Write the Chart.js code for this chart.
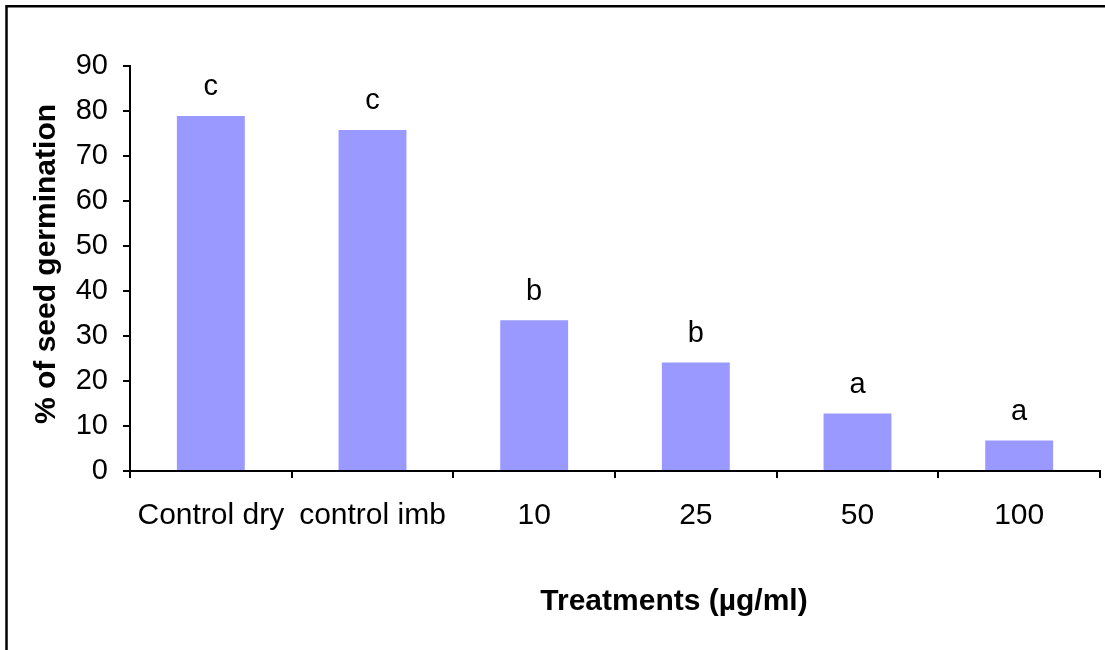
<!DOCTYPE html>
<html>
<head>
<meta charset="utf-8">
<script src="https://cdn.jsdelivr.net/npm/chart.js@4.4.1/dist/chart.umd.min.js"></script>
<style>
  html, body { margin: 0; padding: 0; background: #ffffff; }
  #wrap { width: 1105px; height: 650px; }
</style>
</head>
<body>
<div id="wrap"><canvas id="chart" width="1105" height="650"></canvas></div>
<script>
// Germination (%) per treatment, with significance letters
const treatments = ['Control dry', 'control imb', '10', '25', '50', '100'];
const germination = [78.9, 75.8, 33.5, 24.1, 12.8, 6.8];
const groupLetters = ['c', 'c', 'b', 'b', 'a', 'a'];
const yTicks = [0, 10, 20, 30, 40, 50, 60, 70, 80, 90];
const yTitle = '% of seed germination';
const xTitle = 'Treatments (\u00b5g/ml)';

const FONT = "'Liberation Sans', Arial, sans-serif";

// White page with a frame along the top and left edges
const framePlugin = {
  id: 'frame',
  beforeDraw(chart) {
    const ctx = chart.ctx;
    ctx.save();
    ctx.fillStyle = '#ffffff';
    ctx.fillRect(0, 0, chart.width, chart.height);
    ctx.strokeStyle = '#000000';
    ctx.lineWidth = 2.5;
    ctx.beginPath();
    ctx.moveTo(6.5, chart.height);
    ctx.lineTo(6.5, 6.25);
    ctx.lineTo(chart.width, 6.25);
    ctx.stroke();
    ctx.restore();
  }
};

// Letters above each bar
const letterPlugin = {
  id: 'letters',
  afterDatasetsDraw(chart) {
    const ctx = chart.ctx;
    const meta = chart.getDatasetMeta(0);
    ctx.save();
    ctx.fillStyle = '#000000';
    ctx.font = '29px ' + FONT;
    ctx.textAlign = 'center';
    ctx.textBaseline = 'alphabetic';
    meta.data.forEach((bar, i) => {
      ctx.fillText(groupLetters[i], bar.x, bar.y - 20.5);
    });
    ctx.restore();
  }
};

// Axis titles
const titlesPlugin = {
  id: 'axisTitles',
  afterDraw(chart) {
    const ctx = chart.ctx;
    ctx.save();
    ctx.fillStyle = '#000000';
    ctx.font = 'bold 30px ' + FONT;
    ctx.textAlign = 'center';
    ctx.textBaseline = 'alphabetic';
    ctx.fillText(xTitle, 674, 610);
    ctx.translate(55, 264);
    ctx.rotate(-Math.PI / 2);
    ctx.fillText(yTitle, 0, 0);
    ctx.restore();
  }
};

new Chart(document.getElementById('chart'), {
  type: 'bar',
  data: {
    labels: treatments,
    datasets: [{
      data: germination,
      backgroundColor: '#9999ff',
      borderWidth: 0,
      categoryPercentage: 1.0,
      barPercentage: 0.42
    }]
  },
  options: {
    responsive: false,
    animation: false,
    devicePixelRatio: 1,
    layout: { padding: { left: 0, top: 66, right: 5, bottom: 0 } },
    plugins: {
      legend: { display: false },
      tooltip: { enabled: false }
    },
    scales: {
      x: {
        offset: true,
        grid: {
          offset: true,
          drawOnChartArea: false,
          drawTicks: true,
          tickLength: 7,
          color: '#000000',
          lineWidth: 2
        },
        border: { display: true, color: '#000000', width: 2 },
        ticks: {
          color: '#000000',
          font: { family: FONT, size: 30 },
          padding: 20,
          maxRotation: 0,
          autoSkip: false
        },
        afterFit(scale) { scale.height = 179; }
      },
      y: {
        min: 0,
        max: 90,
        afterBuildTicks(scale) { scale.ticks = yTicks.map(v => ({ value: v })); },
        grid: {
          drawOnChartArea: false,
          drawTicks: true,
          tickLength: 7,
          color: '#000000',
          lineWidth: 2
        },
        border: { display: true, color: '#000000', width: 2 },
        ticks: {
          color: '#000000',
          font: { family: FONT, size: 29 },
          padding: 15
        },
        afterFit(scale) { scale.width = 130; }
      }
    }
  },
  plugins: [framePlugin, letterPlugin, titlesPlugin]
});
</script>
</body>
</html>
